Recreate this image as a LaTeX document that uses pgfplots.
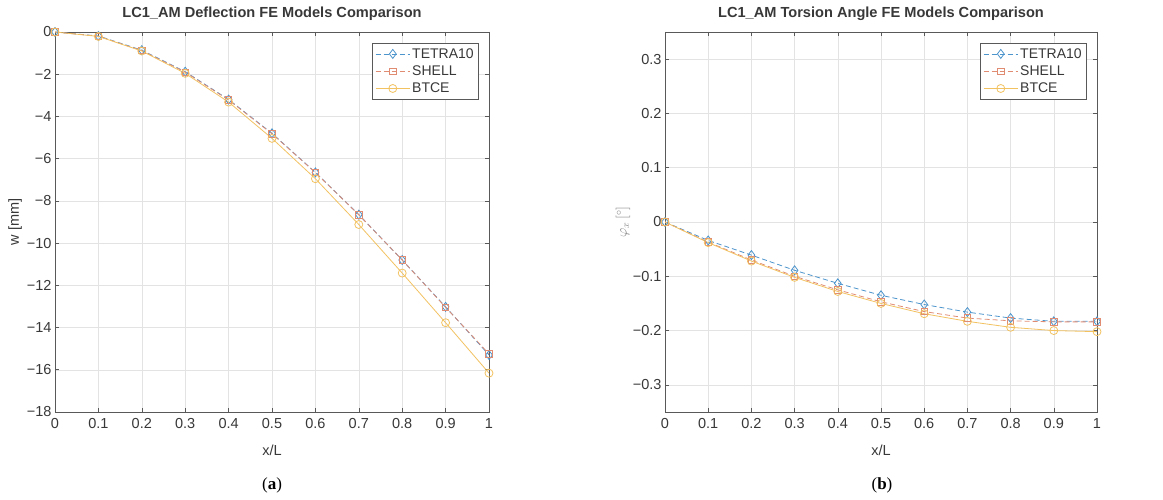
\documentclass[border=0pt]{standalone}
\usepackage{pgfplots}
\pgfplotsset{compat=1.18}
\usepackage{fontspec}
\setmainfont{Liberation Sans}
\newfontfamily\capfont{Liberation Serif}
\definecolor{ctetra}{rgb}{0.30,0.58,0.80}
\definecolor{cshell}{rgb}{0.88,0.55,0.45}
\definecolor{cbtce}{rgb}{0.95,0.76,0.38}
\definecolor{cax}{rgb}{0.35,0.35,0.35}
\definecolor{ctxt}{rgb}{0.22,0.22,0.22}
\pgfplotstableread{
x tetra shell btce
0   0      0      0
0.1 -0.19  -0.2   -0.21
0.2 -0.86  -0.88  -0.9
0.3 -1.88  -1.9   -1.96
0.4 -3.2   -3.22  -3.32
0.5 -4.8   -4.82  -5.04
0.6 -6.65  -6.66  -6.95
0.7 -8.65  -8.66  -9.12
0.8 -10.8  -10.8  -11.42
0.9 -13.02 -13.04 -13.77
1.0 -15.3  -15.25 -16.16
}\deflection
\pgfplotstableread{
x tetra shell btce
0   0      0      0
0.1 -0.034 -0.037 -0.038
0.2 -0.061 -0.070 -0.072
0.3 -0.089 -0.100 -0.102
0.4 -0.113 -0.125 -0.128
0.5 -0.135 -0.147 -0.150
0.6 -0.152 -0.165 -0.169
0.7 -0.166 -0.177 -0.183
0.8 -0.177 -0.182 -0.194
0.9 -0.183 -0.184 -0.200
1.0 -0.183 -0.184 -0.202
}\torsion
\pgfplotsset{
  mystyle/.style={
    scale only axis,
    anchor=south west,
    height=380pt,
    xmin=0, xmax=1,
    xtick={0,0.1,...,1},
    xticklabels={0,0.1,0.2,0.3,0.4,0.5,0.6,0.7,0.8,0.9,1},
    grid=major,
    major grid style={gray!22, line width=0.5pt},
    axis line style={cax, line width=0.6pt},
    tick style={cax, line width=0.6pt},
    tick align=inside,
    major tick length=4pt,
    ticklabel style={font=\fontsize{14.5}{16}\selectfont, text=ctxt},
    xticklabel style={yshift=-3pt},
    title style={font=\bfseries\fontsize{14.6}{16}\selectfont, text=ctxt, at={(0.5,1)}, anchor=south, yshift=2pt},
    xlabel style={font=\fontsize{14.5}{16}\selectfont, text=ctxt, at={(axis description cs:0.5,0)}, anchor=center, yshift=-38pt},
    ylabel style={font=\fontsize{14.5}{16}\selectfont, text=ctxt},
    legend style={at={(1,1)}, anchor=north east, xshift=-10pt, yshift=-11pt,
      draw=cax, line width=0.6pt, font=\fontsize{14}{16}\selectfont, text=ctxt,
      inner xsep=3pt, inner ysep=3pt, row sep=2pt},
    legend cell align=left,
    legend image code/.code={
      \draw[mark repeat=2,mark phase=2] plot coordinates {(0cm,0cm) (0.6cm,0cm) (1.2cm,0cm)};
    },
    every axis plot/.append style={line width=0.8pt},
  },
  ptetra/.style={ctetra, dash pattern=on 5pt off 3pt, mark=diamond, mark size=4.5pt, mark options={solid, ctetra, fill=none}},
  pshell/.style={cshell, dash pattern=on 5pt off 3pt, mark=square, mark size=3.2pt, mark options={solid, cshell, fill=none}},
  pbtce/.style={cbtce, solid, mark=o, mark size=4pt, mark options={solid, cbtce, fill=none}},
}
\begin{document}
\begin{tikzpicture}[x=1pt,y=1pt]
\path (0,0) rectangle (1163,500);
\begin{axis}[mystyle, at={(55pt,88pt)}, width=434pt,
  ymin=-18, ymax=0,
  ytick={-18,-16,...,0},
  yticklabels={−18,−16,−14,−12,−10,−8,−6,−4,−2,0},
  title={LC1\_AM Deflection FE Models Comparison},
  xlabel={x/L}, ylabel={w [mm]},
  ylabel style={at={(axis description cs:-0.092,0.5)}, rotate=0, anchor=center},
]
\addplot[ptetra] table[x=x, y=tetra] {\deflection};
\addlegendentry{TETRA10}
\addplot[pshell] table[x=x, y=shell] {\deflection};
\addlegendentry{SHELL}
\addplot[pbtce] table[x=x, y=btce] {\deflection};
\addlegendentry{BTCE}
\end{axis}
\begin{axis}[mystyle, at={(665pt,88pt)}, width=432pt,
  ymin=-0.35, ymax=0.35,
  ytick={-0.3,-0.2,-0.1,0,0.1,0.2,0.3},
  yticklabels={−0.3,−0.2,−0.1,0,0.1,0.2,0.3},
  title={LC1\_AM Torsion Angle FE Models Comparison},
  xlabel={x/L}, ylabel={$\varphi_x\,[^\circ]$},
  ylabel style={at={(axis description cs:-0.097,0.5)}, anchor=center, text=gray},
]
\addplot[ptetra] table[x=x, y=tetra] {\torsion};
\addlegendentry{TETRA10}
\addplot[pshell] table[x=x, y=shell] {\torsion};
\addlegendentry{SHELL}
\addplot[pbtce] table[x=x, y=btce] {\torsion};
\addlegendentry{BTCE}
\end{axis}
\node[font=\capfont\fontsize{17}{19}\selectfont] at (272,15) {(\textbf{a})};
\node[font=\capfont\fontsize{17}{19}\selectfont] at (882,15) {(\textbf{b})};
\end{tikzpicture}
\end{document}
